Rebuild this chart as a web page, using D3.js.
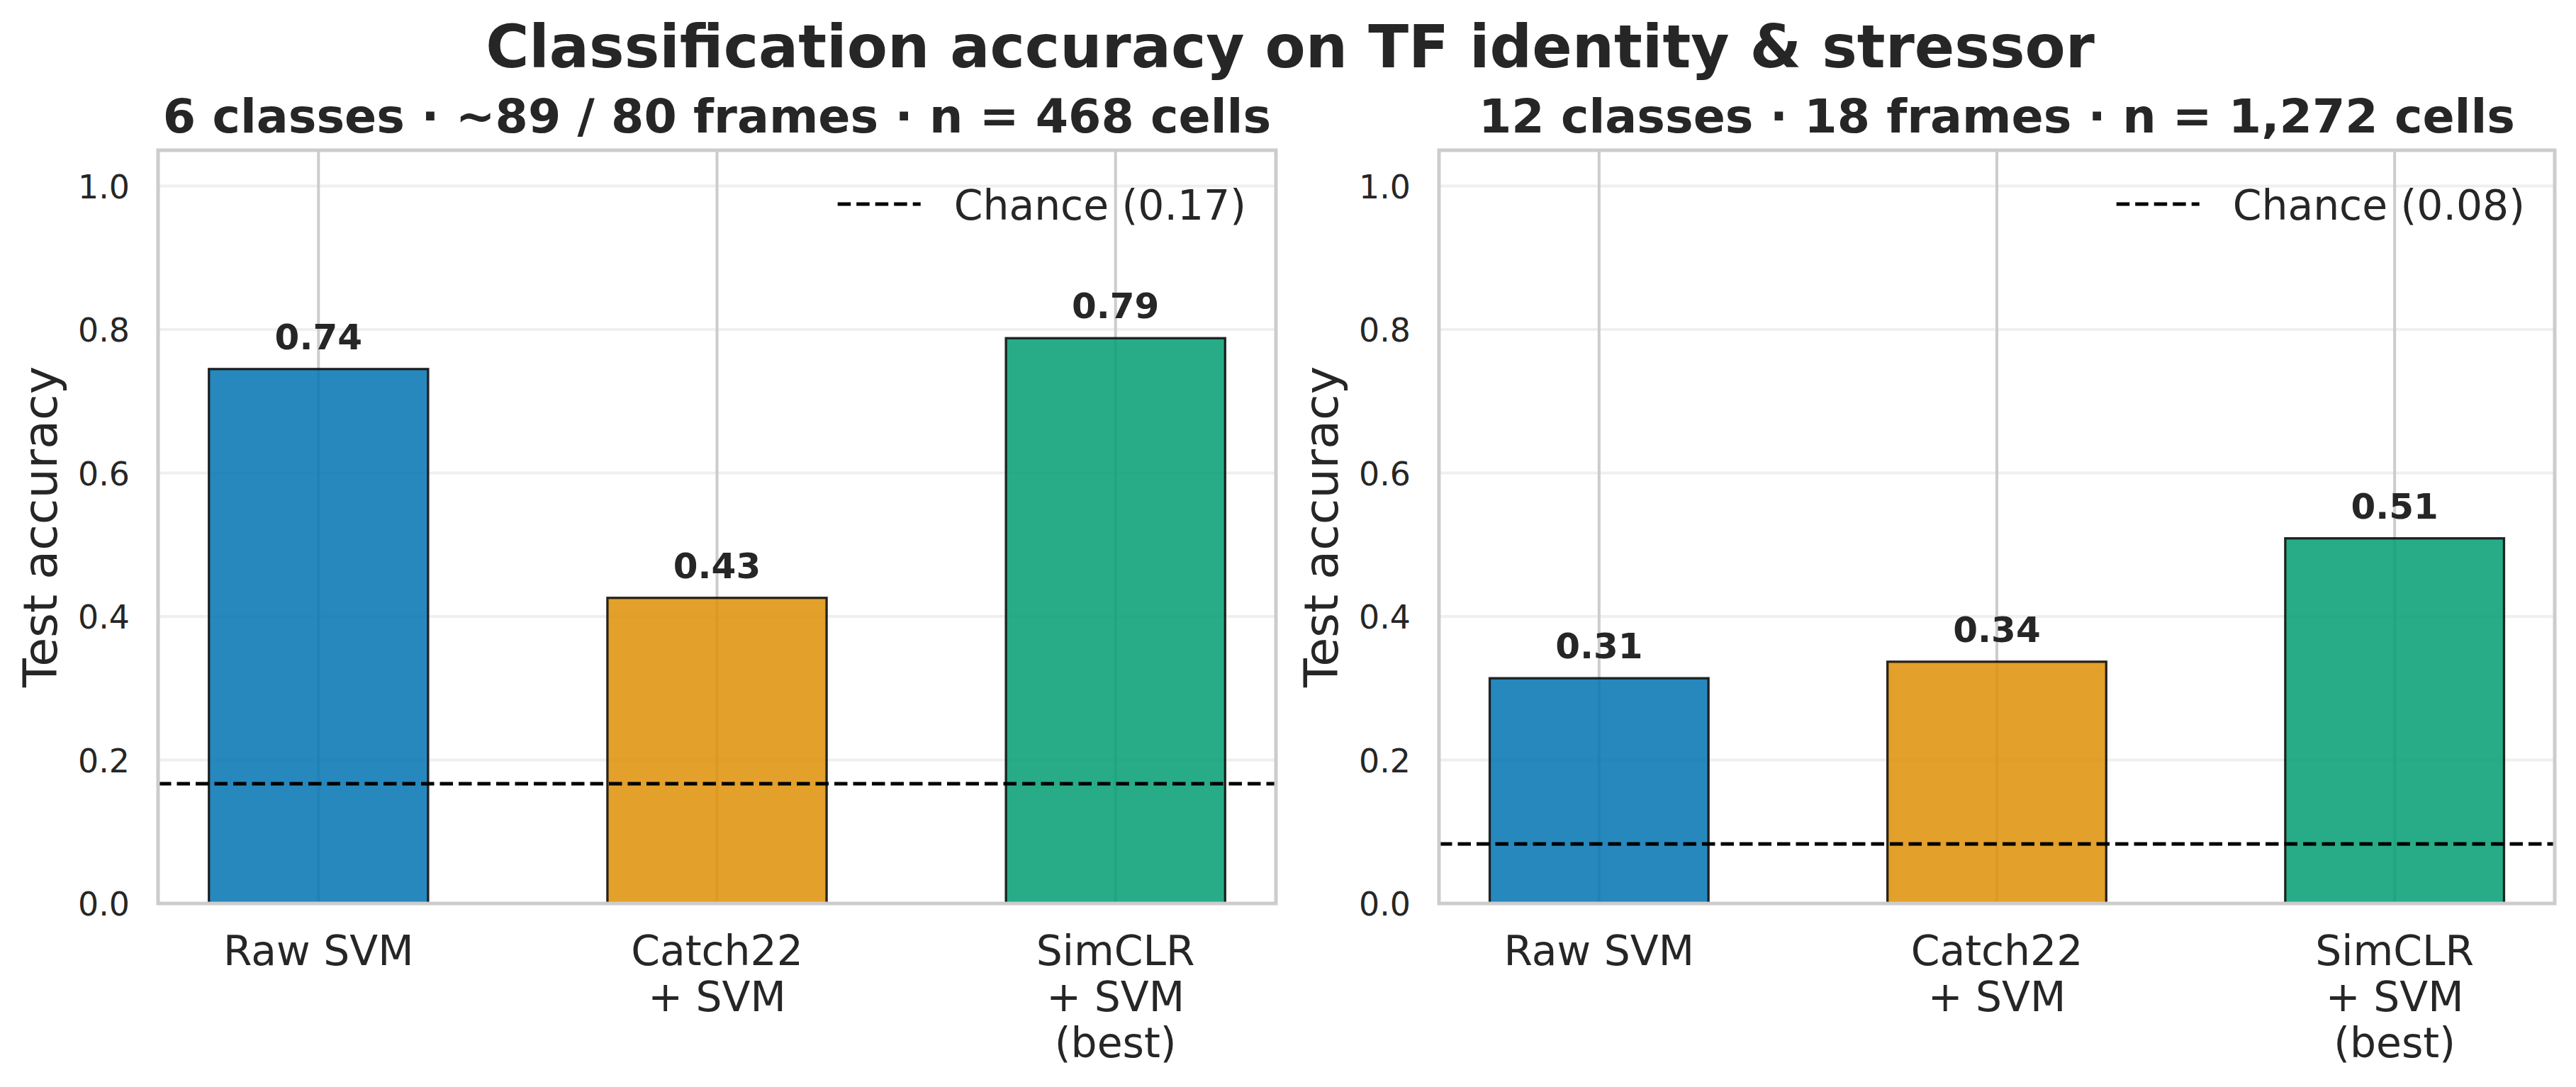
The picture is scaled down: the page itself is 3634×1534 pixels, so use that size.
<!DOCTYPE html>
<html>
<head>
<meta charset="utf-8">
<script src="https://cdn.jsdelivr.net/npm/d3@7"></script>
<style>
  body { margin: 0; background: #fff; }
  svg { display: block; }
</style>
</head>
<body>
<div id="chart"></div>
<script>
// data
var methods = ["Raw SVM", "Catch22\n+ SVM", "SimCLR\n+ SVM\n(best)"];
var accLeft = [0.745, 0.426, 0.788];
var accRight = [0.314, 0.337, 0.509];
var chanceLeft = 0.167;
var chanceRight = 0.083;
var chanceLabels = ["Chance (0.17)", "Chance (0.08)"];
var panelTitles = ["6 classes \u00b7 ~89 / 80 frames \u00b7 n = 468 cells",
                   "12 classes \u00b7 18 frames \u00b7 n = 1,272 cells"];
var yTicks = [0.0, 0.2, 0.4, 0.6, 0.8, 1.0];
var barColors = ["#0173b2", "#de8f05", "#029e73"];
var suptitle = "Classification accuracy on TF identity & stressor";

var W = 3634, H = 1534;
var pt = 300 / 72; // px per point
var textColor = "#262626";
var font = "'DejaVu Sans', sans-serif";

var svg = d3.select("#chart").append("svg")
    .attr("width", W)
    .attr("height", H)
    .style("font-family", font);

svg.append("rect").attr("width", W).attr("height", H).attr("fill", "#fff");

svg.append("text")
    .attr("x", 1820)
    .attr("y", 95)
    .attr("text-anchor", "middle")
    .attr("font-size", 20 * pt)
    .attr("font-weight", "bold")
    .attr("fill", textColor)
    .text(suptitle);

var panels = [
  {x0: 223, x1: 1800, acc: accLeft, chance: chanceLeft, title: panelTitles[0], legend: chanceLabels[0]},
  {x0: 2030, x1: 3604, acc: accRight, chance: chanceRight, title: panelTitles[1], legend: chanceLabels[1]}
];
var plotTop = 212, plotBottom = 1275;

panels.forEach(function(p) {
  var x = d3.scaleLinear().domain([-0.4025, 2.4025]).range([p.x0, p.x1]);
  var y = d3.scaleLinear().domain([0, 1.05]).range([plotBottom, plotTop]);
  var barW = 0.55;

  var g = svg.append("g");

  // horizontal grid (light)
  g.append("g").selectAll("line")
    .data(yTicks).enter().append("line")
      .attr("x1", p.x0).attr("x2", p.x1)
      .attr("y1", d => y(d)).attr("y2", d => y(d))
      .attr("stroke", "#efefef")
      .attr("stroke-width", 4);

  // vertical grid at categories
  g.append("g").selectAll("line")
    .data(methods).enter().append("line")
      .attr("x1", (d, i) => x(i)).attr("x2", (d, i) => x(i))
      .attr("y1", plotTop).attr("y2", plotBottom)
      .attr("stroke", "#cccccc")
      .attr("stroke-width", 4);

  // bars
  g.append("g").selectAll("rect")
    .data(p.acc).enter().append("rect")
      .attr("x", (d, i) => x(i - barW / 2))
      .attr("width", (d, i) => x(i + barW / 2) - x(i - barW / 2))
      .attr("y", d => y(d))
      .attr("height", d => y(0) - y(d))
      .attr("fill", (d, i) => barColors[i])
      .attr("fill-opacity", 0.85)
      .attr("stroke", "#111")
      .attr("stroke-opacity", 0.9)
      .attr("stroke-width", 3.3);

  // value labels
  g.append("g").selectAll("text")
    .data(p.acc).enter().append("text")
      .attr("x", (d, i) => x(i))
      .attr("y", d => y(d) - 28)
      .attr("text-anchor", "middle")
      .attr("font-size", 12 * pt)
      .attr("font-weight", "bold")
      .attr("fill", textColor)
      .text(d => d.toFixed(2));

  // chance line
  g.append("line")
    .attr("x1", p.x0).attr("x2", p.x1)
    .attr("y1", y(p.chance)).attr("y2", y(p.chance))
    .attr("stroke", "#000")
    .attr("stroke-width", 5)
    .attr("stroke-dasharray", "18.5,8");

  // spines
  g.append("rect")
    .attr("x", p.x0).attr("y", plotTop)
    .attr("width", p.x1 - p.x0).attr("height", plotBottom - plotTop)
    .attr("fill", "none")
    .attr("stroke", "#cccccc")
    .attr("stroke-width", 5);

  // y ticks
  var yAxis = d3.axisLeft(y).tickValues(yTicks).tickFormat(d3.format(".1f")).tickSize(0).tickPadding(40);
  var ya = g.append("g")
      .attr("transform", "translate(" + p.x0 + ",0)")
      .call(yAxis);
  ya.select(".domain").remove();
  ya.selectAll("text")
      .attr("font-size", 11 * pt)
      .attr("font-family", font)
      .attr("fill", textColor)
      .attr("dy", "0.36em");

  // x category labels
  var xl = g.append("g").selectAll("text")
    .data(methods).enter().append("text")
      .attr("x", (d, i) => x(i))
      .attr("y", 1362)
      .attr("text-anchor", "middle")
      .attr("font-size", 14 * pt)
      .attr("fill", textColor);
  xl.each(function(d, i) {
    var t = d3.select(this);
    d.split("\n").forEach(function(line, k) {
      t.append("tspan")
        .attr("x", x(i))
        .attr("dy", k === 0 ? 0 : 65)
        .text(line);
    });
  });

  // y label
  g.append("text")
    .attr("transform", "translate(" + (p.x0 - 143) + "," + ((plotTop + plotBottom) / 2) + ") rotate(-90)")
    .attr("text-anchor", "middle")
    .attr("font-size", 16 * pt)
    .attr("fill", textColor)
    .text("Test accuracy");

  // panel title
  g.append("text")
    .attr("x", (p.x0 + p.x1) / 2)
    .attr("y", 187)
    .attr("text-anchor", "middle")
    .attr("font-size", 16 * pt)
    .attr("font-weight", "bold")
    .attr("fill", textColor)
    .text(p.title);

  // legend
  var lg = g.append("g");
  var txt = lg.append("text")
    .attr("x", p.x1 - 42)
    .attr("y", 310)
    .attr("text-anchor", "end")
    .attr("font-size", 14 * pt)
    .attr("fill", textColor)
    .text(p.legend);
  var tw = txt.node().getComputedTextLength();
  var tx = p.x1 - 42 - tw;
  lg.append("line")
    .attr("x1", tx - 47 - 117).attr("x2", tx - 47)
    .attr("y1", 288).attr("y2", 288)
    .attr("stroke", "#000")
    .attr("stroke-width", 5)
    .attr("stroke-dasharray", "18.5,8");
});
</script>
</body>
</html>
